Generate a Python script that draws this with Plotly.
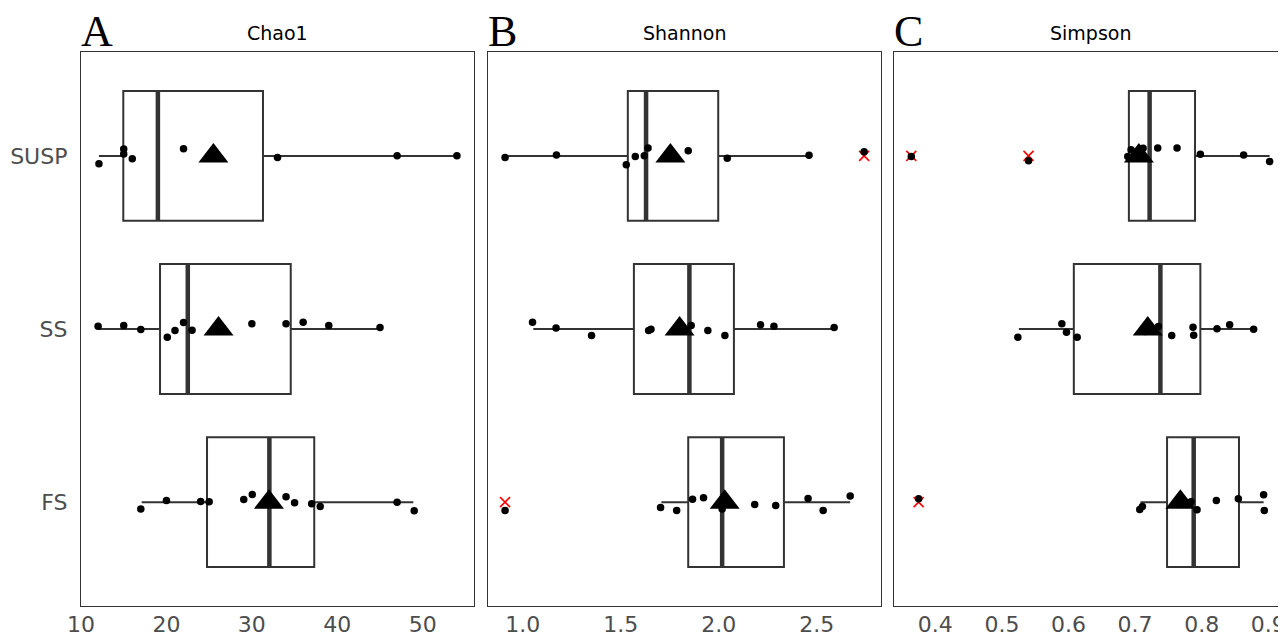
import plotly.graph_objects as go

# ---------------- data ----------------
categories = ["FS", "SS", "SUSP"]
positions = [0, 1, 2]

# Chao1 box statistics (FS, SS, SUSP)
chao1_q1 = [24.75, 19.25, 14.95]
chao1_med = [32.05, 22.5, 19.0]
chao1_q3 = [37.3, 34.55, 31.3]
chao1_lo = [17.1, 12.1, 12.1]
chao1_hi = [48.9, 45.0, 54.0]
chao1_mean = [32.0, 26.1, 25.5]

chao1_fs = [17.0, 20.0, 24.0, 25.0, 29.05, 30.05, 34.0, 35.0, 37.0, 38.0, 47.0, 49.0]
chao1_fs_jit = [-0.040, 0.009, 0.003, 0.002, 0.015, 0.044, 0.031, -0.004, -0.010, -0.025, 0.000, -0.050]
chao1_ss = [12.0, 15.0, 17.0, 20.1, 21.0, 22.0, 23.0, 30.0, 34.0, 36.0, 39.0, 45.0]
chao1_ss_jit = [0.016, 0.020, -0.003, -0.048, -0.009, 0.037, -0.007, 0.031, 0.031, 0.039, 0.020, 0.008]
chao1_susp = [12.1, 15.0, 15.0, 16.0, 22.0, 33.0, 47.0, 54.0]
chao1_susp_jit = [-0.045, 0.040, 0.011, -0.016, 0.041, -0.010, 0.001, 0.001]
chao1_out_fs, chao1_out_ss, chao1_out_susp = [], [], []

# Shannon
sh_q1 = [1.844, 1.567, 1.536]
sh_med = [2.017, 1.85, 1.629]
sh_q3 = [2.332, 2.077, 1.997]
sh_lo = [1.707, 1.054, 0.91]
sh_hi = [2.67, 2.588, 2.46]
sh_mean = [2.03, 1.80, 1.753]

sh_fs = [0.91, 1.703, 1.785, 1.866, 1.922, 2.017, 2.183, 2.29, 2.455, 2.532, 2.67]
sh_fs_jit = [-0.048, -0.031, -0.048, 0.017, 0.025, -0.039, -0.014, -0.020, 0.021, -0.048, 0.036]
sh_ss = [1.050, 1.170, 1.351, 1.642, 1.654, 1.859, 1.944, 2.031, 2.213, 2.281, 2.588]
sh_ss_jit = [0.039, 0.006, -0.038, -0.009, -0.002, 0.020, -0.009, -0.038, 0.024, 0.016, 0.008]
sh_susp = [0.91, 1.172, 1.528, 1.574, 1.62, 1.639, 1.844, 2.043, 2.46, 2.741]
sh_susp_jit = [-0.010, 0.005, -0.051, -0.003, 0.001, 0.046, 0.030, -0.014, 0.003, 0.024]
sh_out_fs, sh_out_ss, sh_out_susp = [0.91], [], [2.741]

# Simpson
si_q1 = [0.748, 0.608, 0.6907]
si_med = [0.788, 0.738, 0.7218]
si_q3 = [0.856, 0.798, 0.790]
si_lo = [0.708, 0.5255, 0.688]
si_hi = [0.893, 0.878, 0.902]
si_mean = [0.768, 0.719, 0.7057]

si_fs = [0.375, 0.707, 0.711, 0.772, 0.784, 0.793, 0.822, 0.855, 0.893, 0.894]
si_fs_jit = [0.019, -0.043, -0.025, -0.004, 0.002, -0.044, 0.009, 0.019, 0.042, -0.048]
si_ss = [0.524, 0.59, 0.597, 0.613, 0.715, 0.735, 0.755, 0.787, 0.788, 0.823, 0.842, 0.878]
si_ss_jit = [-0.048, 0.030, -0.019, -0.048, -0.015, 0.014, -0.038, 0.010, -0.036, 0.001, 0.025, -0.002]
si_susp = [0.364, 0.540, 0.689, 0.694, 0.704, 0.712, 0.734, 0.763, 0.798, 0.863, 0.902]
si_susp_jit = [-0.003, -0.028, -0.003, 0.036, 0.018, 0.044, 0.046, 0.046, 0.009, 0.005, -0.033]
si_out_fs, si_out_ss, si_out_susp = [0.375], [], [0.364, 0.540]

titles = ["Chao1", "Shannon", "Simpson"]
letters = ["A", "B", "C"]
x_ranges = [[10.0, 56.0], [0.823, 2.827], [0.338, 0.9266]]
x_ticks = [[10, 20, 30, 40, 50], [1.0, 1.5, 2.0, 2.5], [0.4, 0.5, 0.6, 0.7, 0.8, 0.9]]
x_fmt = ["d", ".1f", ".1f"]

# ---------------- figure ----------------
panels = [
    dict(q1=chao1_q1, med=chao1_med, q3=chao1_q3, lo=chao1_lo, hi=chao1_hi, mean=chao1_mean,
         pts=[chao1_fs, chao1_ss, chao1_susp], jit=[chao1_fs_jit, chao1_ss_jit, chao1_susp_jit],
         out=[chao1_out_fs, chao1_out_ss, chao1_out_susp]),
    dict(q1=sh_q1, med=sh_med, q3=sh_q3, lo=sh_lo, hi=sh_hi, mean=sh_mean,
         pts=[sh_fs, sh_ss, sh_susp], jit=[sh_fs_jit, sh_ss_jit, sh_susp_jit],
         out=[sh_out_fs, sh_out_ss, sh_out_susp]),
    dict(q1=si_q1, med=si_med, q3=si_q3, lo=si_lo, hi=si_hi, mean=si_mean,
         pts=[si_fs, si_ss, si_susp], jit=[si_fs_jit, si_ss_jit, si_susp_jit],
         out=[si_out_fs, si_out_ss, si_out_susp]),
]

# page body has an 8px margin, so the figure is sized to fill the rest of the window
W, H = 1278, 629
ML, MR, MT, MB = 73, 0, 44, 31
PW = W - ML - MR
PH = H - MT - MB
domains = [[0, 393 / PW], [407 / PW, 800 / PW], [813 / PW, 1.0]]
BOX_W = 0.75
LINE = "#333333"

fig = go.Figure()
for i, p in enumerate(panels):
    xa = "x" if i == 0 else f"x{i+1}"
    ya = "y" if i == 0 else f"y{i+1}"
    fig.add_trace(go.Box(
        orientation="h", y=positions, q1=p["q1"], median=p["med"], q3=p["q3"],
        lowerfence=p["lo"], upperfence=p["hi"], width=BOX_W, whiskerwidth=0,
        boxpoints=False, fillcolor="white", line=dict(color=LINE, width=2),
        xaxis=xa, yaxis=ya, showlegend=False, hoverinfo="skip"))
for i, p in enumerate(panels):
    xa = "x" if i == 0 else f"x{i+1}"
    ya = "y" if i == 0 else f"y{i+1}"
    ox, oy = [], []
    for pos, vals in zip(positions, p["out"]):
        ox += vals
        oy += [pos] * len(vals)
    fig.add_trace(go.Scatter(
        x=ox, y=oy, mode="markers",
        marker=dict(symbol="x-thin-open", size=10, color="red", line=dict(color="red", width=1.6)),
        xaxis=xa, yaxis=ya, showlegend=False, hoverinfo="skip"))
    for pos, m in zip(positions, p["med"]):
        fig.add_trace(go.Scatter(
            x=[m, m], y=[pos - BOX_W / 2, pos + BOX_W / 2], mode="lines",
            line=dict(color=LINE, width=4.5), xaxis=xa, yaxis=ya,
            showlegend=False, hoverinfo="skip"))
    px_, py_ = [], []
    for pos, vals, jit in zip(positions, p["pts"], p["jit"]):
        px_ += vals
        py_ += [pos + j for j in jit]
    fig.add_trace(go.Scatter(
        x=px_, y=py_, mode="markers", marker=dict(size=7.5, color="black"),
        xaxis=xa, yaxis=ya, showlegend=False, hoverinfo="skip"))
    fig.add_trace(go.Scatter(
        x=p["mean"], y=positions, mode="markers",
        marker=dict(symbol="triangle-up", size=26, color="black"),
        xaxis=xa, yaxis=ya, showlegend=False, hoverinfo="skip"))

layout = dict(
    width=W, height=H, margin=dict(l=ML, r=MR, t=MT, b=MB, autoexpand=False),
    paper_bgcolor="white", plot_bgcolor="white", showlegend=False,
    font=dict(family="DejaVu Sans", color="#4d4d4d"),
)
for i in range(3):
    xk = "xaxis" if i == 0 else f"xaxis{i+1}"
    yk = "yaxis" if i == 0 else f"yaxis{i+1}"
    ya = "y" if i == 0 else f"y{i+1}"
    xa = "x" if i == 0 else f"x{i+1}"
    layout[xk] = dict(
        domain=domains[i], range=x_ranges[i], anchor=ya, tickvals=x_ticks[i],
        tickformat=x_fmt[i], showgrid=False, zeroline=False, showline=True, mirror=True,
        linecolor=LINE, linewidth=1.3, ticks="", tickfont=dict(size=22, color="#4d4d4d"),
        ticklabelstandoff=-2, automargin=False)
    layout[yk] = dict(
        domain=[0, 1], range=[-0.6, 2.6], anchor=xa, tickvals=positions,
        ticktext=categories, showticklabels=(i == 0), showgrid=False, zeroline=False,
        showline=True, mirror=True, linecolor=LINE, linewidth=1.3, ticks="",
        tickfont=dict(size=22, color="#4d4d4d"), ticklabelstandoff=8, automargin=False)
fig.update_layout(**layout)

for i in range(3):
    d = domains[i]
    fig.add_annotation(
        text=titles[i], xref="paper", yref="paper", x=(d[0] + d[1]) / 2,
        y=(PH + MT - 25) / PH, xanchor="center", yanchor="middle", showarrow=False,
        font=dict(family="DejaVu Sans", size=19, color="black"))
    fig.add_annotation(
        text=letters[i], xref="paper", yref="paper", x=d[0],
        y=(PH + MT - 24) / PH, xanchor="left", yanchor="middle", showarrow=False,
        xshift=-2, font=dict(family="Liberation Serif", size=44, color="black"))

fig.write_html("out.html")
